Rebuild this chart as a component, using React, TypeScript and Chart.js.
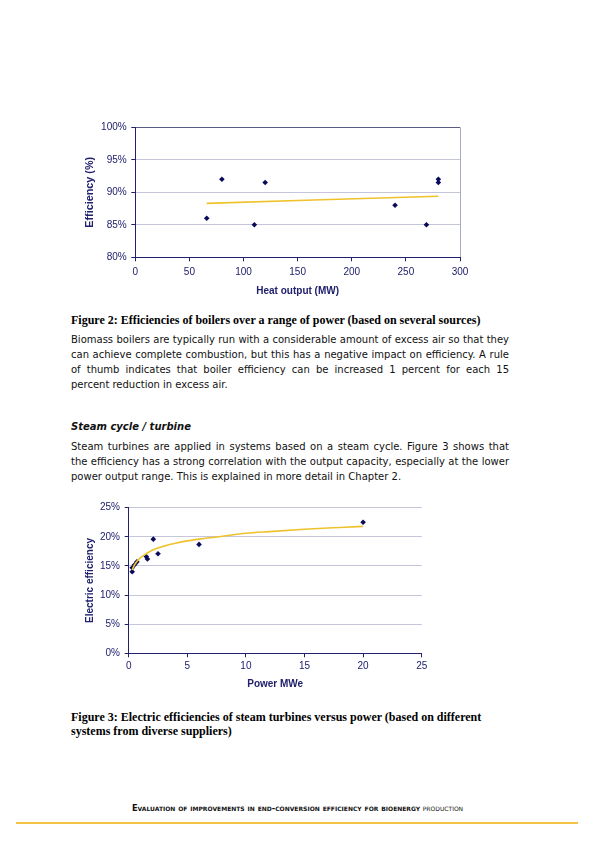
import React, { useEffect, useRef } from "react";
import { Chart, registerables } from "chart.js";

Chart.register(...registerables);

// ---------- Figure 2 data (boilers) ----------
const boilerHeatOutput = [66, 80, 110, 120, 240, 269, 280, 280];
const boilerEfficiency = [86, 92, 85, 91.5, 88, 85, 92, 91.5];
const boilerTrendX = [66, 280];
const boilerTrendY = [88.3, 89.4];
const boilerXTicks = [0, 50, 100, 150, 200, 250, 300];
const boilerYTicks = [80, 85, 90, 95, 100];

// ---------- Figure 3 data (steam turbines) ----------
const turbinePower = [0.3, 0.3, 0.5, 0.7, 1.5, 1.6, 2.1, 2.5, 6, 20];
const turbineEfficiency = [14.0, 14.7, 15.2, 15.7, 16.6, 16.2, 19.6, 17.1, 18.7, 22.5];
const turbineTrendX = [0.3, 0.5, 1, 1.5, 2, 3, 4, 5, 6, 8, 10, 12, 15, 18, 20];
const turbineTrendY = [14.3, 15.2, 16.4, 17.1, 17.7, 18.4, 18.9, 19.3, 19.6, 20.1, 20.6, 20.9, 21.3, 21.6, 21.8];
const turbineXTicks = [0, 5, 10, 15, 20, 25];
const turbineYTicks = [0, 5, 10, 15, 20, 25];

const NAVY = "#20206e";
const MARK = "#0a0a5c";
const GOLD = "#efc22c";
const GRID = "#c6c6da";
const AXIS_FONT = "'Liberation Sans', Arial, sans-serif";

function pts(xs: number[], ys: number[]) {
  return xs.map((x, i) => ({ x, y: ys[i] }));
}

function ChartBox(props: { left: number; top: number; width: number; height: number; config: any }) {
  const ref = useRef<HTMLCanvasElement | null>(null);
  useEffect(() => {
    if (!ref.current) return;
    const chart = new Chart(ref.current, props.config);
    return () => chart.destroy();
  }, []);
  return (
    <div style={{ position: "absolute", left: props.left, top: props.top, width: props.width, height: props.height }}>
      <canvas ref={ref} width={props.width} height={props.height} />
    </div>
  );
}

function makeConfig(o: {
  pointsX: number[]; pointsY: number[]; trendX: number[]; trendY: number[];
  xTicks: number[]; yTicks: number[]; xTitle: string; yTitle: string;
  padding: any; yWidth: number; xHeight: number; yTickPad: number; xTickPad: number;
  yTitlePad: number; xTitlePad: number; frame: boolean; yTitleSize: number;
}) {
  const xMax = o.xTicks[o.xTicks.length - 1];
  const yMax = o.yTicks[o.yTicks.length - 1];
  return {
    type: "scatter",
    data: {
      datasets: [
        {
          data: pts(o.trendX, o.trendY),
          showLine: true,
          borderColor: GOLD,
          borderWidth: 1.6,
          pointRadius: 0,
          fill: false,
          cubicInterpolationMode: "monotone",
        },
        {
          data: pts(o.pointsX, o.pointsY),
          pointStyle: "rectRot",
          pointRadius: 2.8,
          backgroundColor: MARK,
          borderColor: MARK,
          borderWidth: 0,
        },
      ],
    },
    options: {
      responsive: false,
      animation: false,
      events: [],
      layout: { padding: o.padding },
      plugins: { legend: { display: false }, tooltip: { enabled: false } },
      scales: {
        x: {
          type: "linear",
          min: o.xTicks[0],
          max: xMax,
          afterBuildTicks: (s: any) => { s.ticks = o.xTicks.map((v) => ({ value: v })); },
          afterFit: (s: any) => { s.height = o.xHeight; },
          ticks: { color: NAVY, font: { family: AXIS_FONT, size: 10 }, padding: o.xTickPad, maxRotation: 0 },
          grid: {
            color: (c: any) => (o.frame && c.tick && c.tick.value === xMax ? "#a9a9cf" : "rgba(0,0,0,0)"),
            drawTicks: true,
            tickLength: 4,
            tickColor: NAVY,
          },
          border: { display: true, color: NAVY, width: 1 },
          title: {
            display: true,
            text: o.xTitle,
            color: NAVY,
            font: { family: AXIS_FONT, size: 10, weight: "bold" },
            padding: { top: 0, bottom: o.xTitlePad },
          },
        },
        y: {
          type: "linear",
          min: o.yTicks[0],
          max: yMax,
          afterBuildTicks: (s: any) => { s.ticks = o.yTicks.map((v) => ({ value: v })); },
          afterFit: (s: any) => { s.width = o.yWidth; },
          ticks: {
            color: NAVY,
            font: { family: AXIS_FONT, size: 10 },
            padding: o.yTickPad,
            callback: (v: any) => v + "%",
          },
          grid: {
            color: (c: any) => (o.frame && c.tick && c.tick.value === yMax ? "#5a5a86" : GRID),
            drawTicks: true,
            tickLength: 4,
            tickColor: NAVY,
          },
          border: { display: true, color: NAVY, width: 1 },
          title: {
            display: true,
            text: o.yTitle,
            color: NAVY,
            font: { family: AXIS_FONT, size: o.yTitleSize, weight: "bold" },
            padding: { top: o.yTitlePad, bottom: 0 },
          },
        },
      },
    },
  };
}

const config1 = makeConfig({
  pointsX: boilerHeatOutput, pointsY: boilerEfficiency, trendX: boilerTrendX, trendY: boilerTrendY,
  xTicks: boilerXTicks, yTicks: boilerYTicks, xTitle: "Heat output (MW)", yTitle: "Efficiency (%)",
  padding: { left: 0, top: 12.3, right: 15, bottom: 0 },
  yWidth: 60.3, xHeight: 42.7, yTickPad: 4.6, xTickPad: 5.4, yTitlePad: 8.7, xTitlePad: 2.3, frame: true,
  yTitleSize: 10.8,
});

const config2 = makeConfig({
  pointsX: turbinePower, pointsY: turbineEfficiency, trendX: turbineTrendX, trendY: turbineTrendY,
  xTicks: turbineXTicks, yTicks: turbineYTicks, xTitle: "Power MWe", yTitle: "Electric efficiency",
  padding: { left: 0, top: 10.3, right: 13.3, bottom: 0 },
  yWidth: 53.7, xHeight: 38.7, yTickPad: 4.7, xTickPad: 3.4, yTitlePad: 9.7, xTitlePad: 1.7, frame: false,
  yTitleSize: 10,
});

const BODY: React.CSSProperties = {
  fontFamily: "'DejaVu Sans', Verdana, sans-serif",
  fontSize: 10,
  lineHeight: "15px",
  color: "#111",
};

const CAPTION: React.CSSProperties = {
  fontFamily: "'Liberation Serif', 'Times New Roman', serif",
  fontWeight: "bold",
  fontSize: 12,
  lineHeight: "14px",
  color: "#000",
};

function JLine(props: { text: string; last?: boolean }) {
  return (
    <div
      style={{
        width: 438,
        whiteSpace: "nowrap",
        textAlign: props.last ? "left" : "justify",
        textAlignLast: props.last ? "left" : "justify",
      } as React.CSSProperties}
    >
      {props.text}
    </div>
  );
}

const para1 = [
  "Biomass boilers are typically run with a considerable amount of excess air so that they",
  "can achieve complete combustion, but this has a negative impact on efficiency. A rule",
  "of thumb indicates that boiler efficiency can be increased 1 percent for each 15",
  "percent reduction in excess air.",
];

const para2 = [
  "Steam turbines are applied in systems based on a steam cycle. Figure 3 shows that",
  "the efficiency has a strong correlation with the output capacity, especially at the lower",
  "power output range. This is explained in more detail in Chapter 2.",
];

export default function App() {
  return (
    <div style={{ position: "absolute", left: 0, top: 0, width: 595, height: 841, background: "#fff", overflow: "hidden" }}>
      <ChartBox left={75} top={115} width={400} height={185} config={config1} />

      <div style={{ ...CAPTION, position: "absolute", left: 71, top: 313 }}>
        Figure 2: Efficiencies of boilers over a range of power (based on several sources)
      </div>

      <div style={{ ...BODY, position: "absolute", left: 71, top: 331.8 }}>
        {para1.map((t, i) => (
          <JLine key={i} text={t} last={i === para1.length - 1} />
        ))}
      </div>

      <div
        style={{
          ...BODY,
          position: "absolute",
          left: 71,
          top: 419.2,
          fontWeight: "bold",
          fontStyle: "italic",
        }}
      >
        Steam cycle / turbine
      </div>

      <div style={{ ...BODY, position: "absolute", left: 71, top: 439.2 }}>
        {para2.map((t, i) => (
          <JLine key={i} text={t} last={i === para2.length - 1} />
        ))}
      </div>

      <ChartBox left={75} top={497} width={360} height={195} config={config2} />

      <div style={{ ...CAPTION, position: "absolute", left: 71, top: 709.7, whiteSpace: "nowrap" }}>
        Figure 3: Electric efficiencies of steam turbines versus power (based on different
        <br />
        systems from diverse suppliers)
      </div>

      <div
        style={{
          position: "absolute",
          left: 0,
          width: 595,
          top: 803,
          textAlign: "center",
          fontFamily: "'DejaVu Sans', Verdana, sans-serif",
          fontSize: 8.25,
          lineHeight: "10px",
          fontVariant: "small-caps",
          color: "#111",
          whiteSpace: "nowrap",
        }}
      >
        <span style={{ fontWeight: "bold" }}>Evaluation of improvements in end-conversion efficiency for bioenergy</span>{" "}
        <span style={{ fontWeight: "normal" }}>production</span>
      </div>

      <div style={{ position: "absolute", left: 16, top: 821.5, width: 562, height: 2.5, background: "#f5c343" }} />
    </div>
  );
}
